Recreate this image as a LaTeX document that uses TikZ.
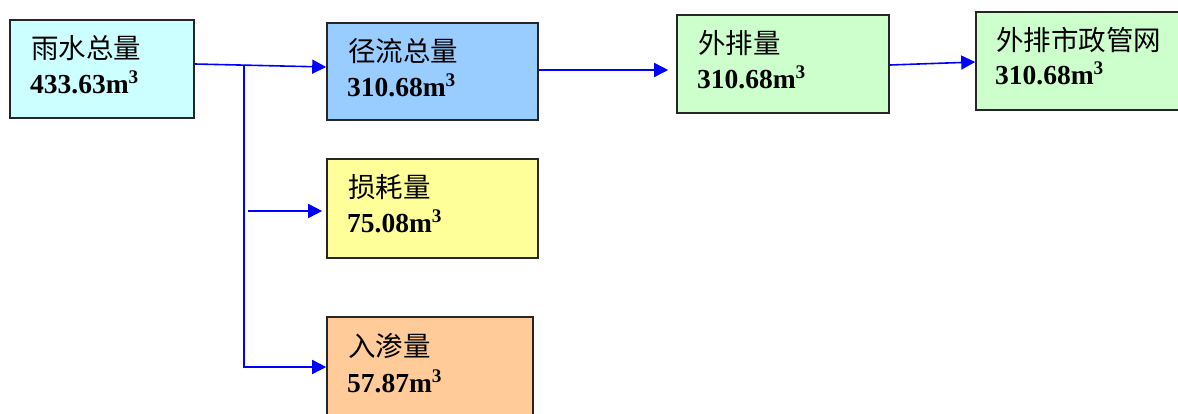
\documentclass[tikz,border=0pt]{standalone}
\usepackage{fontspec}
\setmainfont{Liberation Serif}
\newfontfamily\cjk{Noto Sans CJK SC}
\usetikzlibrary{arrows.meta}
\definecolor{cA}{HTML}{CCFFFF}
\definecolor{cB}{HTML}{99CCFF}
\definecolor{cC}{HTML}{FFFF99}
\definecolor{cD}{HTML}{FFCC99}
\definecolor{cE}{HTML}{CCFFCC}
\definecolor{arrowblue}{HTML}{0000FF}
\tikzset{
  box/.style={draw=black!85, line width=1.6pt, inner sep=0pt},
  cn/.style={anchor=base west, inner sep=0pt, font=\fontsize{27.5}{30}\selectfont\cjk},
  num/.style={anchor=base west, inner sep=0pt, font=\fontsize{27.5}{30}\selectfont\bfseries},
  flow/.style={draw=arrowblue, line width=1.6pt, -{Triangle[length=14pt,width=14pt]}},
  flowline/.style={draw=arrowblue, line width=1.6pt}
}
\begin{document}
\begin{tikzpicture}[x=1pt,y=-1pt]
\useasboundingbox (0,0) rectangle (1178,413);
% boxes
\node[box, fill=cA, minimum width=184pt, minimum height=98pt] (b1) at (102,69) {};
\node[box, fill=cB, minimum width=211pt, minimum height=97pt] (b2) at (432.5,71.5) {};
\node[box, fill=cC, minimum width=211pt, minimum height=99pt] (b3) at (432.5,208.5) {};
\node[box, fill=cD, minimum width=206pt, minimum height=100pt] (b4) at (430,367) {};
\node[box, fill=cE, minimum width=212pt, minimum height=98pt] (b5) at (783,64) {};
\node[box, fill=cE, minimum width=206pt, minimum height=98pt] (b6) at (1079,61) {};
% texts
\node[cn] (t1a) at (31,58) {雨水总量};
\node[num] (t1b) at (30,93) {433.63m\textsuperscript{3}};
\node[cn] (t2a) at (348,61) {径流总量};
\node[num] (t2b) at (347,96) {310.68m\textsuperscript{3}};
\node[cn] (t3a) at (348,197) {损耗量};
\node[num] (t3b) at (347,232) {75.08m\textsuperscript{3}};
\node[cn] (t4a) at (348,356) {入渗量};
\node[num] (t4b) at (347,392) {57.87m\textsuperscript{3}};
\node[cn] (t5a) at (698,53) {外排量};
\node[num] (t5b) at (697,88) {310.68m\textsuperscript{3}};
\node[cn] (t6a) at (996,50) {外排市政管网};
\node[num] (t6b) at (995,84) {310.68m\textsuperscript{3}};
% connectors
\coordinate (j) at (244,65.5);
\coordinate (s3) at (248,211);
\draw[flow] ([yshift=5pt]b1.east) -- ([yshift=4.5pt]b2.west);
\draw[flow] (j) -- (j |- b4.west) -- (b4.west);
\draw[flow, shorten >=4pt] (s3) -- (b3.west |- s3);
\draw[flow, shorten >=8pt] ([yshift=1.5pt]b2.east) -- ([yshift=-6pt]b5.west);
\draw[flow] ([yshift=-1pt]b5.east) -- ([yshift=-1pt]b6.west);
\end{tikzpicture}
\end{document}
